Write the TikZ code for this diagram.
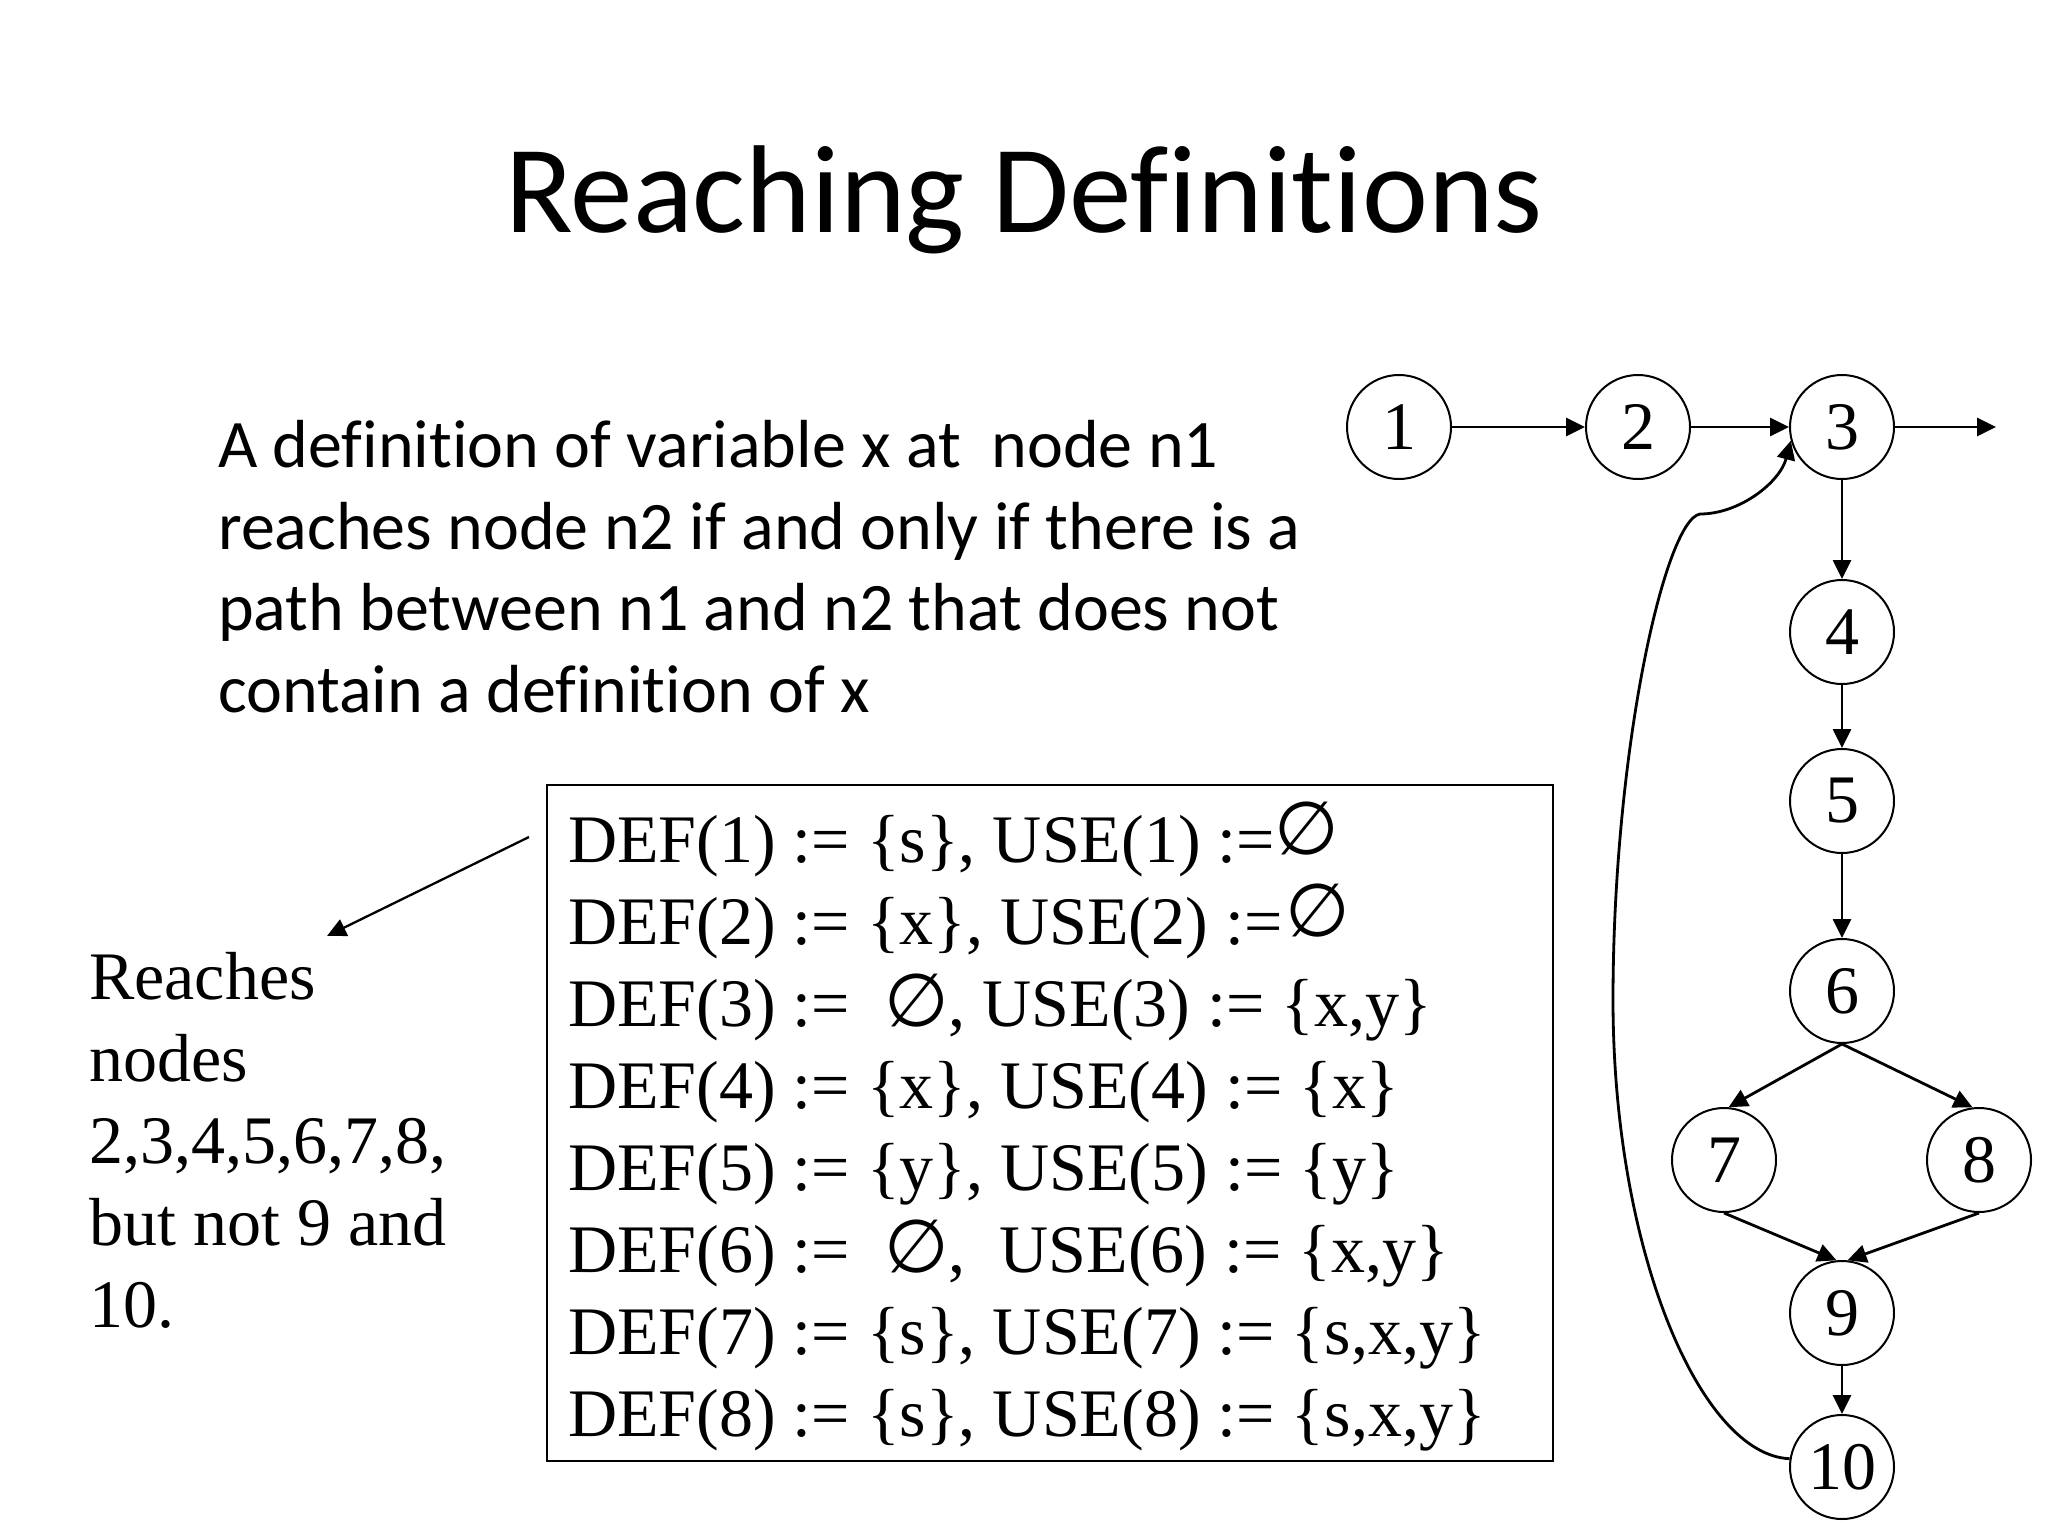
\documentclass[tikz,border=0pt]{standalone}
\usepackage{fontspec}
\usepackage{graphicx}
\newfontfamily\carl[Ligatures={NoCommon}]{Carlito}
\newfontfamily\tnr{Liberation Serif}
\newfontfamily\dvs{DejaVu Sans}
\usetikzlibrary{arrows.meta}
\newcommand{\myempty}{\scalebox{0.95}[0.95]{\dvs\fontsize{78}{82}\selectfont ∅}}
\tikzset{
  gnode/.style={circle, draw, line width=2pt, minimum size=104pt, inner sep=0pt,
    font=\tnr\fontsize{68}{82}\selectfont},
  edge/.style={line width=2.8pt, -{Triangle[length=19pt,width=18pt]}},
  thinedge/.style={line width=2.3pt, -{Triangle[length=19pt,width=18pt]}},
  titletext/.style={anchor=base, inner sep=0pt, font=\carl\fontsize{125}{150}\selectfont},
  paratext/.style={anchor=base west, inner sep=0pt, font=\carl\fontsize{68}{82}\selectfont},
  serifline/.style={anchor=base west, inner sep=0pt, font=\tnr\fontsize{68}{82}\selectfont},
  frame/.style={draw, line width=2pt, anchor=north west, inner sep=0pt,
    minimum width=1006pt, minimum height=676pt},
}
\begin{document}
\begin{tikzpicture}[x=1pt,y=-1pt]
\useasboundingbox (0,0) rectangle (2048,1536);

% title
\node[titletext] (title) at (1024,232) {Reaching Definitions};

% paragraph
\node[paratext] (p1) at (218,467) {A definition of variable x at\ \ node n1};
\node[paratext] (p2) at (218,549) {reaches node n2 if and only if there is a};
\node[paratext] (p3) at (218,630) {path between n1 and n2 that does not};
\node[paratext] (p4) at (218,712) {contain a definition of x};

% box
\node[frame] (box) at (546,784) {};
\node[serifline] (d1) at (568,862) {DEF(1) := \{s\}, USE(1) :=\raisebox{8pt}{\myempty}};
\node[serifline] (d2) at (568,944) {DEF(2) := \{x\}, USE(2) :=\hspace{3pt}\raisebox{8pt}{\myempty}};
\node[serifline] (d3) at (568,1026) {DEF(3) :=\ \ \myempty, USE(3) := \{x,y\}};
\node[serifline] (d4) at (568,1108) {DEF(4) := \{x\}, USE(4) := \{x\}};
\node[serifline] (d5) at (568,1190) {DEF(5) := \{y\}, USE(5) := \{y\}};
\node[serifline] (d6) at (568,1272) {DEF(6) :=\ \ \myempty,\ \ USE(6) := \{x,y\}};
\node[serifline] (d7) at (568,1354) {DEF(7) := \{s\}, USE(7) := \{s,x,y\}};
\node[serifline] (d8) at (568,1436) {DEF(8) := \{s\}, USE(8) := \{s,x,y\}};

% reaches text
\node[serifline] (r1) at (89,999) {Reaches};
\node[serifline] (r2) at (89,1081) {nodes};
\node[serifline] (r3) at (89,1163) {2,3,4,5,6,7,8,};
\node[serifline] (r4) at (89,1245) {but not 9 and};
\node[serifline] (r5) at (89,1327) {10.};

\coordinate (as) at (529,837);
\coordinate (ae) at (327,936);
\draw[thinedge] (as) -- (ae);

% graph
\node[gnode] (n1) at (1399,427) {1};
\node[gnode] (n2) at (1638,427) {2};
\node[gnode] (n3) at (1842,427) {3};
\node[gnode] (n4) at (1842,632) {4};
\node[gnode] (n5) at (1842,801) {5};
\node[gnode] (n6) at (1842,991) {6};
\node[gnode] (n7) at (1724,1160) {7};
\node[gnode] (n8) at (1979,1160) {8};
\node[gnode] (n9) at (1842,1313) {9};
\node[gnode] (n10) at (1842,1467) {10};
\coordinate (out) at (1996,427);

\draw[edge] (n1) -- (n2);
\draw[edge] (n2) -- (n3);
\draw[edge] (n3) -- (out);
\draw[edge] (n3) -- (n4);
\draw[edge] (n4) -- (n5);
\draw[edge] (n5) -- (n6);
\draw[edge] (n6.south) -- (n7.85);
\draw[edge] (n6.south) -- (n8.97);
\draw[edge] (n7.south) -- (n9.96);
\draw[edge] (n8.south) -- (n9.84);
\draw[edge] (n9) -- (n10);

\coordinate (bmid) at (1613,1000);
\coordinate (bcorner) at (1700,514);
\draw[edge] (n10.171) .. controls (1700,1455) and (1613,1250) .. (bmid)
  .. controls (1613,750) and (1665,520) .. (bcorner)
  .. controls (1740,514) and (1780,482) .. (n3.195);
\end{tikzpicture}
\end{document}
